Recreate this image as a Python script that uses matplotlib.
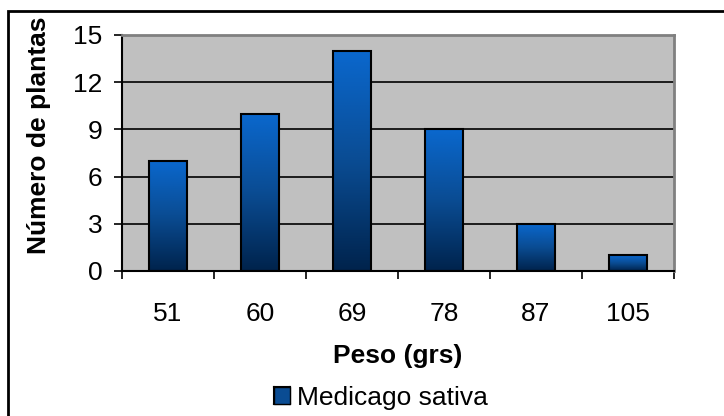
import numpy as np
import matplotlib.pyplot as plt
from matplotlib.colors import LinearSegmentedColormap
from matplotlib.patches import Rectangle

plt.rcParams['font.family'] = ['Liberation Sans', 'DejaVu Sans']

# Data
categorias = ["51", "60", "69", "78", "87", "105"]
plantas = [7, 10, 14, 9, 3, 1]
serie = "Medicago sativa"
yticks = [0, 3, 6, 9, 12, 15]

grad = LinearSegmentedColormap.from_list("azul", ["#00234C", "#0A4C93", "#0A68CE"])

fig = plt.figure(figsize=(7.24, 4.16), dpi=100)
ax = fig.add_axes([122 / 724, 1 - 271 / 416, 552 / 724, 236 / 416])
ax.set_facecolor("#C0C0C0")

x = np.arange(len(categorias))
bars = ax.bar(x, plantas, width=0.41, color="none", edgecolor="black", linewidth=1.5, zorder=3)

# gradient fill, clipped to each bar
g = np.linspace(0, 1, 256).reshape(-1, 1)
for b in bars:
    x0, y0 = b.get_x(), b.get_y()
    w, h = b.get_width(), b.get_height()
    im = ax.imshow(g, cmap=grad, origin="lower", aspect="auto",
                   extent=[x0, x0 + w, y0, y0 + h], zorder=2)
    im.set_clip_path(b)

ax.set_xlim(-0.5, len(categorias) - 0.5)
ax.set_ylim(0, 15)
ax.set_yticks(yticks)
ax.yaxis.grid(True, color="black", linewidth=1.2, zorder=1)
ax.set_axisbelow(True)

ax.set_xticks(x)
ax.set_xticklabels(categorias, fontsize=19)
ax.set_xticks(np.arange(-0.5, len(categorias)), minor=True)
ax.tick_params(axis="x", which="major", length=0, pad=22)
ax.tick_params(axis="x", which="minor", length=6, width=1.2, color="black")
ax.tick_params(axis="y", labelsize=19, length=6, width=1.2, pad=8)

for s in ["top", "right"]:
    ax.spines[s].set_color("#808080")
    ax.spines[s].set_linewidth(2)
for s in ["left", "bottom"]:
    ax.spines[s].set_color("black")
    ax.spines[s].set_linewidth(1.5)

ax.set_xlabel("Peso (grs)", fontsize=19, fontweight="bold", labelpad=13)
ax.set_ylabel("Número de plantas", fontsize=19, fontweight="bold")
ax.yaxis.set_label_coords(-0.128, 0.575)

leg = fig.legend(handles=[Rectangle((0, 0), 1, 1, facecolor="#0A4C93", edgecolor="black")],
                 labels=[serie], loc="center", bbox_to_anchor=(381 / 724, 1 - 398 / 416),
                 frameon=False, fontsize=19, handlelength=0.6, handleheight=0.6,
                 handletextpad=0.3, borderpad=0)

# gradient on the legend square
fig.canvas.draw()
bb = leg.legend_handles[0].get_window_extent().transformed(fig.transFigure.inverted())
lax = fig.add_axes([bb.x0, bb.y0, bb.width, bb.height])
lax.imshow(g, cmap=grad, origin="lower", aspect="auto")
lax.set_xticks([])
lax.set_yticks([])
for s in lax.spines.values():
    s.set_linewidth(1.5)

# chart border
fig.patches.append(Rectangle((8 / 724, -0.1), 1.1, 1 - 11 / 416 + 0.1, transform=fig.transFigure,
                             fill=False, edgecolor="black", linewidth=2))

fig.savefig("out.png", dpi=100)
